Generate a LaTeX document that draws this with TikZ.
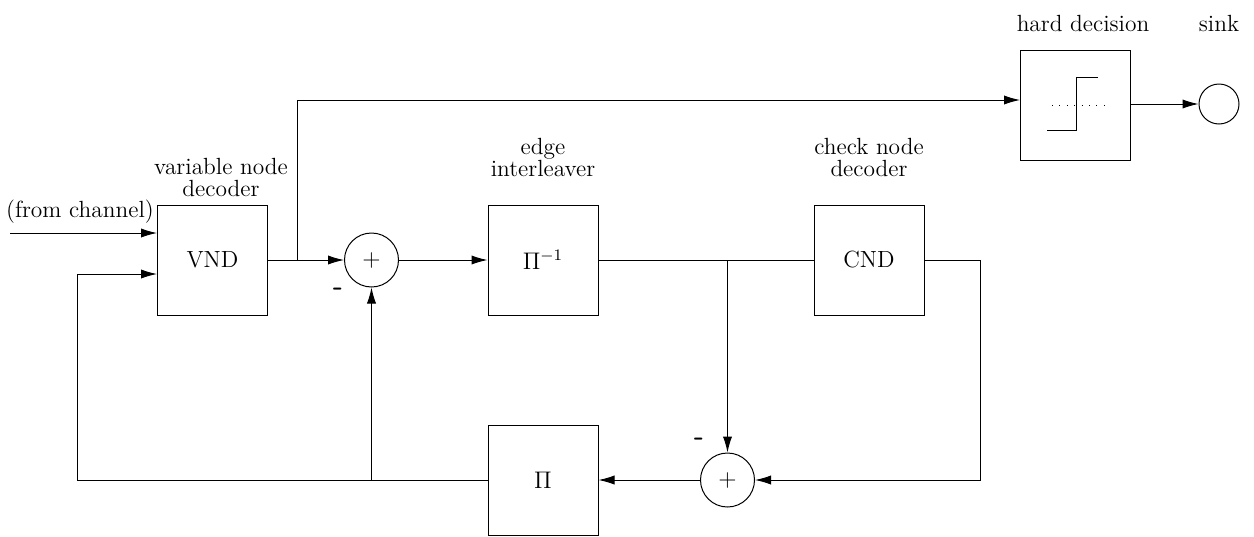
\documentclass[tikz,border=0pt]{standalone}
\usetikzlibrary{arrows.meta}
\begin{document}
\begin{tikzpicture}[x=0.5pt,y=-0.5pt,
  font=\fontsize{11.7}{11}\selectfont,
  line width=0.5pt,
  blk/.style={draw, minimum width=55pt, minimum height=55pt, inner sep=0pt},
  sumc/.style={draw, circle, minimum size=27pt, inner sep=0pt},
  arr/.style={-{Latex[length=8pt,width=4.6pt]}},
  lbl/.style={align=center, inner sep=0pt},
  minus/.style={inner sep=0pt, font=\sffamily\bfseries\fontsize{14}{14}\selectfont}]
\useasboundingbox (0,0) rectangle (1254,536);
% blocks
\node[blk] (vnd) at (212.5,260) {VND};
\node[blk] (ileave) at (543,260) {$\Pi^{-1}$};
\node[blk] (cnd) at (869,260) {CND};
\node[blk] (pi) at (543,480) {$\Pi$};
\node[blk] (hd) at (1075.5,105) {};
\node[sumc] (s1) at (371.5,260) {$+$};
\node[sumc] (s2) at (727.5,480) {$+$};
\node[draw, circle, minimum size=20pt, inner sep=0pt] (sink) at (1219,104) {};
% labels
\node[lbl] (lvnd) at (221,177) {variable node\\decoder};
\node[lbl] (lil) at (543,157) {edge\\interleaver};
\node[lbl] (lcnd) at (869,157) {check node\\decoder};
\node[lbl] (lhd) at (1083,23) {hard decision};
\node[lbl] (lsink) at (1219,23) {sink};
\node[lbl] (lch) at (80,212) {(from channel)};
\node[minus] (m1) at (338,292) {-};
\node[minus] (m2) at (699,442) {-};
% step symbol
\draw (1047,130) -- (1076,130) -- (1076,77) -- (1098,77);
\draw[dash pattern=on 0.5pt off 3.2pt] (1052,105) -- (1104,105);
% coordinates
\coordinate (in0) at (10,233);
\coordinate (fbU) at (77,274);
\coordinate (j1) at (s1 |- pi);
\coordinate (br) at (297,260);
\coordinate (br2) at (s2 |- cnd.west);
\coordinate (cr) at (980,260);
% connectors
\draw[arr] (in0) -- (in0 -| vnd.west);
\draw[arr] (pi.west) -| (fbU) -- (fbU -| vnd.west);
\draw[arr] (j1) -- (s1.south);
\draw[arr] (vnd.east) -- (s1.west);
\draw[arr] (br) |- ([yshift=2.5pt]hd.west);
\draw[arr] (s1.east) -- (ileave.west);
\draw (ileave.east) -- (cnd.west);
\draw[arr] (br2) -- (s2.north);
\draw[arr] (cnd.east) -- (cr) |- (s2.east);
\draw[arr] (s2.west) -- (pi.east);
\draw[arr] (hd.east |- sink) -- (sink.west);
\end{tikzpicture}
\end{document}
